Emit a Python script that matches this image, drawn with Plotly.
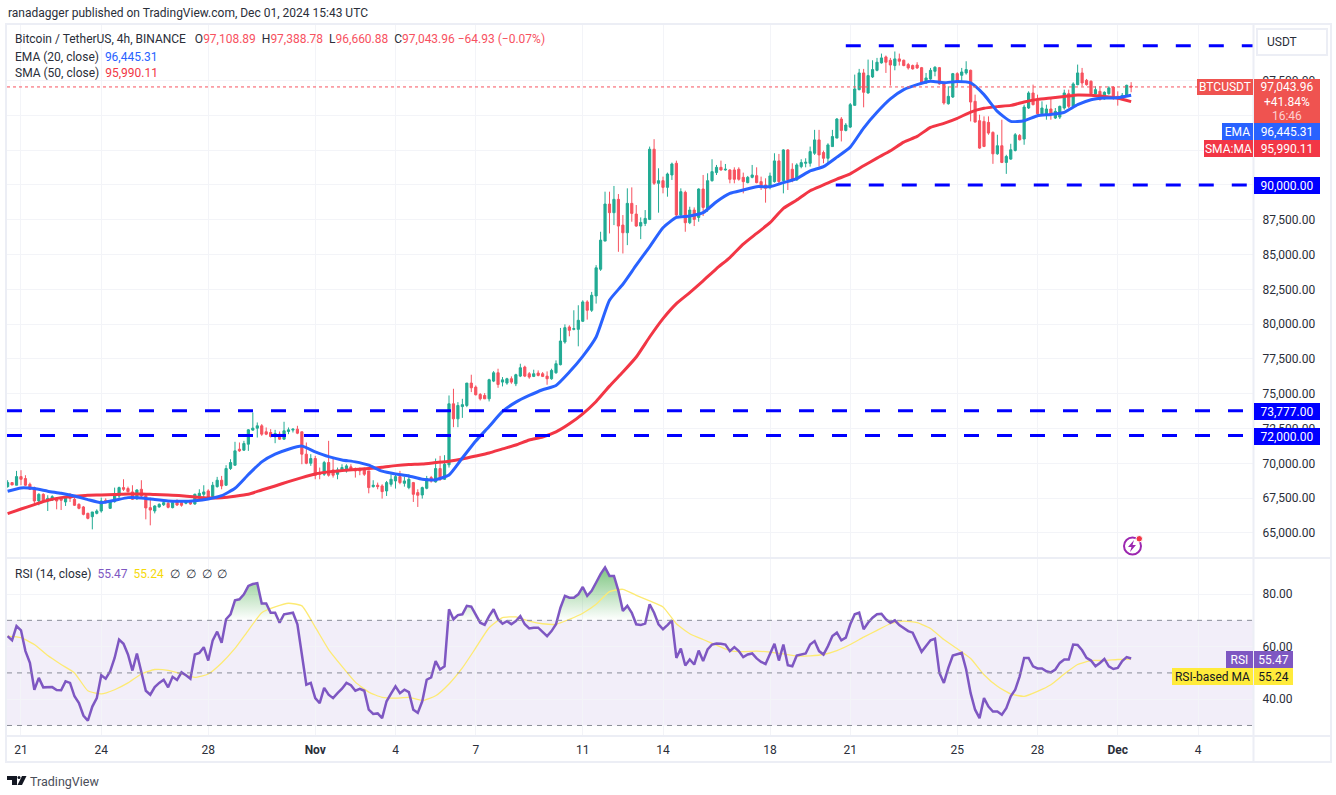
import pandas as pd
import plotly.graph_objects as go

W, H = 1336, 795

# 4h candles, Oct 20 12:00 -> Dec 1 12:00
opens = [
    68330,68620,68430,69050,68910,68500,68260,67300,67780,67300,
    67370,67470,67470,67230,67780,67420,67060,66870,66410,66170,
    66410,66580,67350,66770,67250,67660,68260,68190,67950,67470,
    68140,67660,66820,66580,66870,67030,67130,66820,67300,67180,
    67130,67230,67080,67660,67780,68020,67610,68330,68790,68430,
    69630,69870,71020,70950,71380,72390,72530,72700,72270,72220,
    71910,72100,71740,72290,72390,72460,72270,70660,70010,70350,
    69340,69220,70060,69530,69220,69460,69460,69750,69630,69630,
    69630,69460,68330,68430,68380,68020,68500,68740,69050,68570,
    68260,68620,67900,67730,68210,68980,68670,69630,68860,69900,
    74280,73200,74080,74160,75770,75480,74950,74880,74640,75910,
    76510,75840,75770,76080,75720,76270,76920,76440,76250,76490,
    76440,76270,76080,76510,77090,78720,79800,79630,79630,80210,
    81600,81000,82030,83950,85970,88630,88010,88970,87120,86570,
    88680,87910,87050,87240,87530,92570,90120,90310,89830,90720,
    91560,87840,89470,87290,88200,87670,89710,88320,90310,90890,
    91270,91080,91080,91080,91130,90550,90170,90550,90670,90240,
    90000,89830,90240,91730,90310,92520,91130,90360,91320,91560,
    91560,92280,93240,92330,91920,92760,93370,94740,93920,94160,
    95720,96850,98050,96610,97760,98240,98770,99200,98960,98580,
    99060,98960,98650,98580,98620,98430,97330,97620,98170,98430,
    97260,95840,96320,98000,97880,98050,98240,96010,94620,94570,
    94500,93780,92240,92820,91620,91860,92480,93560,93300,95530,
    96610,96060,95120,95120,95460,94810,94880,95530,96560,95650,
    97210,98050,97520,97450,96540,96730,96180,96560,97040,96370,
    96250,96370,97108.89,
]
highs = [
    68790,68620,69460,69510,69150,68620,68330,67850,67850,67710,
    67710,67540,67540,67660,67850,67540,67130,66940,66460,66510,
    66700,67540,67490,67370,68260,68330,68860,68330,68430,68140,
    68790,67850,67540,66990,67130,67300,67230,67230,67420,67350,
    67300,67280,67830,68140,68430,68140,68670,69030,69100,69870,
    70300,71550,71500,71620,72460,73660,72940,72820,72580,72460,
    72410,72290,72990,72580,72510,72700,72270,71500,70660,70540,
    69700,70180,71620,70420,69700,69940,69940,69940,69700,69700,
    69700,69460,68790,68620,68500,68740,69220,69220,69460,69050,
    69220,68670,68140,68330,69100,69100,70350,70540,70590,74880,
    75360,74400,74640,75770,76370,75600,75050,75050,76080,76630,
    76800,76200,76150,76250,76440,77160,77020,76560,76730,76680,
    76560,76610,76800,77400,79730,79990,79920,81000,81360,81720,
    81720,82320,84240,86640,89520,89520,89930,89350,87840,89760,
    89830,88560,87670,88200,92760,93290,91200,90600,90890,91610,
    91750,89760,89590,88440,88390,89760,90720,90840,91850,91440,
    91750,91510,91130,91270,91270,90890,90650,91440,91270,90600,
    90480,90890,92280,92230,92570,92570,91560,91560,91850,91920,
    92760,93960,93960,92470,93000,93960,94810,94880,94450,95890,
    97930,98340,98340,99010,98960,99130,99440,99300,99130,99590,
    99440,99010,98770,98650,98820,98480,98050,98410,98530,98480,
    97450,97090,98050,98100,98410,98890,98290,96490,95050,94930,
    94930,93850,93610,94690,92170,92960,93730,93660,95770,96730,
    97210,96490,96010,95770,96180,95530,95700,96850,96850,97380,
    98650,98410,97620,97520,97090,97090,96730,97090,97090,96730,
    96610,97210,97388.78,
]
lows = [
    68260,68450,68430,68430,68380,68090,66990,66990,67180,66580,
    67300,66700,66650,66940,67230,66940,66700,66270,65980,65260,
    66340,66460,67130,66750,67180,67490,68020,67900,67370,67370,
    67470,65980,65550,66410,66820,66940,66770,66770,66940,66890,
    67060,67030,67030,67420,67540,67420,67520,68260,68140,68380,
    69530,69820,70830,70900,70900,72340,71860,71980,72030,71860,
    71450,71690,71690,72100,72220,72100,69940,69940,69820,68860,
    68860,69100,69050,68980,68860,69390,69340,69460,68980,69150,
    69100,67850,68260,68140,67470,67660,68330,68190,68500,68330,
    68140,67230,66870,67470,68140,68620,68620,68740,68810,69700,
    72600,72600,73270,74040,75120,74880,74520,74620,74450,75840,
    75430,75530,75650,75720,75550,76200,76200,76080,76200,76250,
    76200,75650,76010,76440,77040,78600,79130,79560,78410,80160,
    80330,80880,81480,83830,85970,86520,87120,85200,85080,85680,
    87360,87000,86110,87050,87480,90000,88010,89400,89160,90360,
    87770,87670,86640,87190,87050,87360,87770,88080,90240,90720,
    91030,91030,90120,90120,90310,89400,90120,90480,90120,89640,
    88730,89690,90170,90120,89400,89640,90200,90310,91200,91270,
    91320,92160,91320,91560,91560,92760,93370,93130,93850,94090,
    95720,96800,95580,96560,97690,98170,98720,98050,97140,98240,
    98580,98530,98290,98290,98340,97330,97280,97570,97810,97210,
    95770,95770,96250,97090,97450,97930,94570,94500,92600,92720,
    93610,91520,92170,91570,90800,91810,92410,93200,92890,95460,
    95720,94880,94980,94690,94690,94740,94740,95410,95530,95530,
    97160,97090,97140,96490,96490,96080,96130,96490,96130,95700,
    96180,96320,96660.88,
]
closes = [
    68620,68450,69050,68860,68430,68140,67300,67780,67250,67490,
    67610,67300,67350,67540,67490,66990,66770,66340,66050,66510,
    66580,67300,67180,67300,67830,68260,68140,67970,67420,68090,
    67660,66800,66650,66940,67060,67180,66840,67180,67010,66990,
    67300,67080,67780,67850,67950,67540,68430,68790,68380,69630,
    70060,70900,70900,71430,72410,72530,72700,72100,72100,71930,
    72150,71740,72340,72410,72460,72170,70660,70010,70350,69150,
    69220,70060,69150,69150,69530,69700,69820,69530,69460,69460,
    69220,68260,68430,68330,67970,68620,68860,69050,68620,68740,
    68860,67780,67710,68260,68910,68740,69630,68860,69940,74280,
    73200,74160,74220,75770,75430,74930,74640,74640,76010,76510,
    75670,76000,76080,75840,76370,76870,76270,76200,76440,76320,
    76250,76080,76680,77160,78790,79750,79560,79680,80280,81600,
    81000,82080,84050,86040,88630,88010,88970,87050,86570,88680,
    87960,87050,87310,87600,92570,90120,90310,89830,90790,91510,
    87840,89520,87290,88200,87530,89710,88390,90310,90960,91270,
    91080,91130,90410,90410,90410,90240,90550,90720,90170,89880,
    89760,90650,91730,90240,92520,90360,90360,91440,91610,91630,
    92400,93240,92160,91920,92880,93480,94740,93920,94310,95770,
    96900,98050,96660,97860,98290,98820,99130,98820,98620,99060,
    98890,98580,98410,98340,98410,97380,97690,98240,98460,97260,
    95890,96370,98000,97450,98120,98290,95960,94520,92650,92770,
    93730,92240,92820,91620,92050,92530,93610,93250,95600,96610,
    95770,95120,95530,95460,95050,95290,95650,96610,95650,97260,
    98050,97330,97210,96560,96850,96130,96660,96970,96250,96250,
    96440,97160,97043.96,
]

# moving averages read every third candle
ema20 = [
    68000,68240,68190,68000,67850,67660,67400,67180,67350,67540,
    67520,67400,67300,67280,67320,67440,67680,68210,69200,70110,
    70660,71020,71240,70830,70490,70250,70110,69870,69440,69240,
    69100,68860,68830,69170,70390,71610,72650,73730,74400,74880,
    75290,75600,76560,77690,79080,81720,82870,84240,85560,86930,
    87670,87770,88010,88800,89400,89640,89880,89880,90170,90460,
    91010,91320,92000,92720,94090,95220,96180,96850,97210,97450,
    97350,97430,97330,96490,95290,94570,94620,94980,95070,95220,
    95770,96130,96250,96270,96445.31,
]
sma50 = [
    66390,66720,67040,67350,67540,67640,67710,67730,67760,67800,
    67800,67760,67730,67680,67590,67520,67540,67640,67780,68090,
    68380,68690,68980,69240,69390,69480,69560,69630,69720,69840,
    69920,69960,70060,70160,70320,70530,70750,71040,71320,71680,
    71900,72260,72840,73560,74450,75550,76560,77640,79080,80400,
    81480,82270,83110,84000,84790,85750,86520,87290,88320,88920,
    89590,90000,90420,90800,91380,91930,92460,93080,93490,94140,
    94430,94790,95240,95510,95630,95720,95960,96150,96250,96350,
    96470,96440,96350,96230,95990.11,
]

rsi = [
    64.0,62.4,67.8,66.2,58.3,53.8,43.6,48.1,44.5,44.6,
    44.6,43.5,43.4,46.8,46.2,41.1,38.5,33.8,31.8,37.2,
    40.4,49.1,47.8,50.6,55.7,62.7,61.1,57.0,50.9,57.4,
    50.6,43.2,41.7,44.6,46.2,47.4,44.5,48.5,47.3,50.2,
    49.1,47.8,57.0,57.6,59.8,54.7,62.4,65.7,61.5,70.4,
    72.3,77.6,78.0,79.9,83.1,83.8,84.1,76.4,76.4,72.9,
    72.9,69.1,72.3,72.7,72.9,68.5,57.0,45.5,46.2,40.4,
    38.5,44.3,41.7,40.4,42.3,44.0,46.2,45.3,43.2,43.9,
    43.2,36.0,34.4,34.6,32.8,39.2,42.1,44.9,42.3,43.6,
    42.7,36.0,34.8,39.2,47.4,48.3,54.5,51.3,52.5,74.2,
    70.4,72.0,72.3,75.5,75.2,72.0,69.1,68.3,71.6,74.2,
    70.4,68.7,69.7,68.5,69.7,71.6,68.5,66.9,67.2,67.2,
    65.7,64.0,65.9,68.5,74.8,79.3,78.6,78.6,79.9,82.7,
    79.3,81.2,84.4,87.6,90.1,86.9,86.9,81.2,73.6,75.5,
    72.9,68.5,68.2,68.8,76.1,72.9,68.5,66.6,68.2,70.0,
    55.7,59.3,52.8,55.1,53.2,58.5,54.5,58.9,60.8,61.2,
    61.1,60.8,58.3,59.8,58.3,56.0,57.0,57.4,55.5,54.2,
    53.4,57.6,61.1,54.7,60.8,52.9,52.5,56.6,56.9,57.4,
    60.8,62.1,58.3,57.0,60.2,64.0,65.3,62.4,63.4,68.5,
    72.3,72.9,66.6,69.1,71.0,72.3,72.5,70.4,69.1,70.0,
    68.2,66.9,65.9,65.3,61.5,58.0,60.2,62.4,63.0,50.0,
    46.2,51.9,56.6,57.0,57.6,51.3,42.3,36.0,32.8,40.4,
    37.2,35.3,35.3,34.1,36.6,41.1,43.6,48.7,55.7,55.7,
    52.5,51.7,51.7,50.6,50.2,51.3,53.8,55.1,55.1,60.8,
    60.6,58.6,55.7,54.7,52.5,53.8,55.3,52.5,51.5,51.9,
    54.5,56.0,55.47,
]
rsi_ma = [
    64.0,63.4,60.8,56.6,53.2,50.0,43.2,42.0,43.6,46.2,
    49.6,51.3,51.0,49.6,48.3,49.6,53.8,59.3,66.2,72.9,
    75.1,76.5,75.5,67.4,58.9,52.5,46.5,42.7,40.7,40.4,
    40.7,39.5,41.3,45.8,51.9,59.5,67.2,71.0,71.3,69.7,
    68.7,68.5,70.4,72.7,76.1,80.9,81.8,79.5,77.4,75.1,
    68.7,64.9,62.7,60.6,58.5,58.1,58.3,57.9,57.2,56.4,
    56.5,57.0,58.5,60.8,63.6,66.2,68.7,69.7,69.1,66.9,
    62.7,59.2,55.5,49.3,44.9,42.0,41.1,43.0,45.5,49.6,
    53.2,54.7,54.7,55.1,55.24,
]

# horizontal levels drawn on the chart
level_prices = [100000, 90000, 73777, 72000]
level_starts = ["2024-11-20 20:00", "2024-11-20 11:00", "2024-10-20 11:27", "2024-10-20 11:27"]

price_ticks = [65000 + 2500 * i for i in range(14)]
# these three sit fully behind the price tags
hidden_ticks = [90000, 92500, 95000]
rsi_ticks = [40, 60, 80]
date_ticks = ["2024-10-21", "2024-10-24", "2024-10-28", "2024-11-01", "2024-11-04", "2024-11-07",
              "2024-11-11", "2024-11-14", "2024-11-18", "2024-11-21", "2024-11-25", "2024-11-28",
              "2024-12-01", "2024-12-04"]
date_labels = ["21", "24", "28", "<b>Nov</b>", "4", "7", "11", "14", "18", "21", "25", "28", "<b>Dec</b>", "4"]

x_start, x_end = "2024-10-20 11:27", "2024-12-06 01:20"
dates = pd.date_range("2024-10-20 12:00", periods=len(opens), freq="4h")
ma_dates = dates[::3]

FONT = "Roboto"
TEXT = "#2a2e39"
GRID = "#f3f4f8"
FRAME = "#eceef5"
GREEN, RED = "#22ab94", "#f7525f"
BLUE, SMA_RED, PURPLE = "#2962ff", "#f23645", "#7e57c2"


def px(x):
    return x / W


def py(y):
    return 1 - y / H


fig = go.Figure()

fig.add_trace(go.Candlestick(
    x=dates, open=opens, high=highs, low=lows, close=closes, whiskerwidth=0,
    increasing=dict(line=dict(color=GREEN, width=1), fillcolor=GREEN),
    decreasing=dict(line=dict(color=RED, width=1), fillcolor=RED),
    xaxis="x", yaxis="y",
))
fig.add_trace(go.Scatter(x=ma_dates, y=sma50, mode="lines", line=dict(color=SMA_RED, width=3, shape="spline", smoothing=0.5)))
fig.add_trace(go.Scatter(x=ma_dates, y=ema20, mode="lines", line=dict(color=BLUE, width=3, shape="spline", smoothing=0.5)))

for price, start in zip(level_prices, level_starts):
    fig.add_trace(go.Scatter(x=[start, x_end], y=[price, price], mode="lines",
                             line=dict(color="#0000ff", width=3, dash="15px,18px")))

# RSI pane: green fill over 70, then the two lines
over70 = [max(v, 70) for v in rsi]
fig.add_trace(go.Scatter(x=dates, y=[70] * len(rsi), mode="lines", line=dict(width=0), xaxis="x2", yaxis="y2"))
fig.add_trace(go.Scatter(
    x=dates, y=over70, mode="lines", line=dict(width=0), fill="tonexty",
    fillgradient=dict(type="vertical", start=70, stop=88,
                      colorscale=[[0, "rgba(76,175,80,0)"], [1, "rgba(76,175,80,0.65)"]]),
    xaxis="x2", yaxis="y2",
))
fig.add_trace(go.Scatter(x=ma_dates, y=rsi_ma, mode="lines", line=dict(color="#fdea73", width=1.3, shape="spline", smoothing=0.5), xaxis="x2", yaxis="y2"))
fig.add_trace(go.Scatter(x=dates, y=rsi, mode="lines", line=dict(color=PURPLE, width=2.5), xaxis="x2", yaxis="y2"))

shapes = [
    # rsi band
    dict(type="rect", xref="x2", yref="y2", x0=x_start, x1=x_end, y0=30, y1=70,
         fillcolor="rgba(126,87,194,0.1)", line_width=0, layer="below"),
    # last price line
    dict(type="line", xref="x", yref="y", x0=x_start, x1=x_end, y0=closes[-1], y1=closes[-1],
         line=dict(color=RED, width=1, dash="dot"), layer="above"),
    # frame and pane separators
    dict(type="rect", xref="paper", yref="paper", x0=px(6), x1=px(1331), y0=py(24), y1=py(762),
         line=dict(color=FRAME, width=2)),
    dict(type="line", xref="paper", yref="paper", x0=px(6), x1=px(1331), y0=py(558), y1=py(558),
         line=dict(color=FRAME, width=2)),
    dict(type="line", xref="paper", yref="paper", x0=px(6), x1=px(1331), y0=py(736), y1=py(736),
         line=dict(color=FRAME, width=2)),
    dict(type="line", xref="paper", yref="paper", x0=px(1253.5), x1=px(1253.5), y0=py(24), y1=py(762),
         line=dict(color=FRAME, width=2)),
]
for v in [70, 50, 30]:
    shapes.append(dict(type="line", xref="x2", yref="y2", x0=x_start, x1=x_end, y0=v, y1=v,
                       line=dict(color="#8a8d98", width=1, dash="5px,5px"), layer="above"))


def paper_path(points, close=True):
    d = "M " + " L ".join(f"{px(x):.5f},{py(y):.5f}" for x, y in points)
    return d + (" Z" if close else "")


# USDT box
shapes.append(dict(type="rect", xref="paper", yref="paper", x0=px(1257), x1=px(1327), y0=py(29), y1=py(55),
                   fillcolor="white", line=dict(color=FRAME, width=2), layer="above"))
# lightning icon
shapes.append(dict(type="circle", xref="paper", yref="paper", x0=px(1124), x1=px(1141), y0=py(537.5), y1=py(554.5),
                   line=dict(color="#9c27b0", width=2), layer="above"))
shapes.append(dict(type="path", xref="paper", yref="paper", layer="above", fillcolor="#9c27b0", line_width=0,
                   path=paper_path([(1134, 540), (1128, 547), (1131.5, 547), (1130, 552), (1136, 545), (1132.5, 545)])))
shapes.append(dict(type="circle", xref="paper", yref="paper", x0=px(1136), x1=px(1142.5), y0=py(535.5), y1=py(542),
                   fillcolor="#f23645", line=dict(color="white", width=1), layer="above"))
# TradingView logo
shapes.append(dict(type="path", xref="paper", yref="paper", fillcolor="#131722", line_width=0,
                   path=paper_path([(7, 776), (17, 776), (17, 785), (12, 785), (12, 780), (7, 780)])))
shapes.append(dict(type="circle", xref="paper", yref="paper", fillcolor="#131722", line_width=0,
                   x0=px(17.5), x1=px(20.5), y0=py(776), y1=py(779)))
shapes.append(dict(type="path", xref="paper", yref="paper", fillcolor="#131722", line_width=0,
                   path=paper_path([(22, 776), (26.5, 776), (22, 785), (17.5, 785)])))

annotations = []


def note(text, x, y, size=12, color=TEXT, anchor="left"):
    annotations.append(dict(text=text, xref="paper", yref="paper", x=px(x), y=py(y), xanchor=anchor, yanchor="middle",
                            showarrow=False, font=dict(family=FONT, size=size, color=color), align="left"))


def tag(text, x0, x1, y0, y1, bg, color="white"):
    annotations.append(dict(text=text, xref="paper", yref="paper", x=px(x0), y=py((y0 + y1) / 2),
                            xanchor="left", yanchor="middle", showarrow=False, width=x1 - x0, height=y1 - y0,
                            bgcolor=bg, borderpad=0, borderwidth=0, align="center", valign="middle",
                            font=dict(family=FONT, size=12, color=color)))


def span(text, color):
    return f'<span style="color:{color}">{text}</span>'


GAP = "&nbsp;"
note("ranadagger published on TradingView.com, Dec 01, 2024 15:43 UTC", 6, 13)
note("Bitcoin / TetherUS, 4h, BINANCE" + GAP * 2 + " O" + span("97,108.89", RED) + GAP + " H" + span("97,388.78", RED)
     + GAP + " L" + span("96,660.88", RED) + GAP + " C" + span("97,043.96 −64.93 (−0.07%)", RED), 13, 39)
note("EMA (20, close)  " + span("96,445.31", BLUE), 13, 57)
note("SMA (50, close)  " + span("95,990.11", SMA_RED), 13, 73)
note("RSI (14, close)  " + span("55.47", PURPLE) + "  " + span("55.24", "#f5d90a") + "  ∅  ∅  ∅  ∅", 13, 574)
note("USDT", 1265, 42)
note("TradingView", 28, 781, size=12.5, color="#4a4e59")

# price scale labels
tag("BTCUSDT", 1197, 1253, 79, 95, "#ef5350")
tag("97,043.96", 1254, 1320, 79, 95, "#ef5350")
tag("+41.84%", 1254, 1320, 95, 109, "#ef5350")
tag("16:46", 1254, 1320, 109, 123, "#ef5350", "#fbd0d0")
tag("EMA", 1222, 1253, 123, 140, BLUE)
tag("96,445.31", 1254, 1320, 123, 140, BLUE)
tag("SMA:MA", 1204, 1253, 140, 157, SMA_RED)
tag("95,990.11", 1254, 1320, 140, 157, SMA_RED)
tag("90,000.00", 1254, 1320, 177, 194, "#0000ff")
tag("73,777.00", 1254, 1320, 403, 420, "#0000ff")
tag("72,000.00", 1254, 1320, 428, 445, "#0000ff")
tag("RSI", 1226, 1253, 651, 668, PURPLE)
tag("55.47", 1254, 1293, 651, 668, PURPLE)
tag("RSI-based MA", 1172, 1253, 668, 685, "#ffeb3b", "#131722")
tag("55.24", 1254, 1293, 668, 685, "#ffeb3b", "#131722")

x_common = dict(type="date", range=[x_start, x_end], domain=[px(7), px(1253)], tickvals=date_ticks,
                showgrid=True, gridcolor=GRID, gridwidth=1, zeroline=False, showline=False)
y_common = dict(side="right", showgrid=True, gridcolor=GRID, gridwidth=1, zeroline=False, showline=False,
                ticks="outside", ticklen=6, tickcolor="rgba(0,0,0,0)",
                tickfont=dict(family=FONT, size=12, color=TEXT))

fig.update_layout(
    width=W, height=H, margin=dict(l=0, r=0, t=0, b=0),
    paper_bgcolor="white", plot_bgcolor="white", showlegend=False, hovermode=False,
    xaxis=dict(x_common, anchor="y", showticklabels=False, rangeslider=dict(visible=False)),
    xaxis2=dict(x_common, anchor="y2", ticktext=date_labels, ticks="outside", ticklen=3, tickcolor="rgba(0,0,0,0)",
                tickfont=dict(family=FONT, size=12, color=TEXT)),
    yaxis=dict(y_common, anchor="x", domain=[py(558), py(24)], range=[63203, 101566], tickvals=price_ticks,
               ticktext=["" if v in hidden_ticks else f"{v:,.2f}" for v in price_ticks]),
    yaxis2=dict(y_common, anchor="x2", domain=[py(736), py(559)], range=[26, 93.33],
                tickvals=rsi_ticks, tickformat=".2f"),
    shapes=shapes, annotations=annotations,
)

fig.write_html("out.html", config={"displayModeBar": False}, post_script="document.body.style.margin='0';")
